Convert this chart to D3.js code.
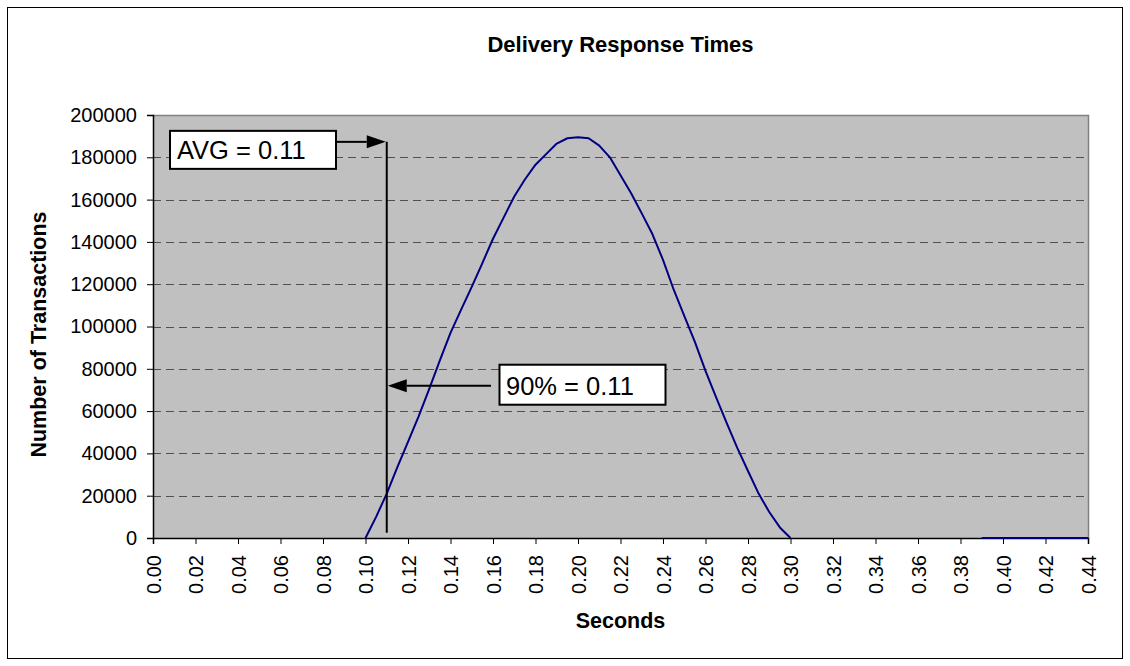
<!DOCTYPE html>
<html>
<head>
<meta charset="utf-8">
<script src="https://cdn.jsdelivr.net/npm/d3@7"></script>
<style>
  html, body { margin: 0; padding: 0; background: #fff; }
  text { font-family: Arial, "Liberation Sans", sans-serif; }
</style>
</head>
<body>
<svg id="chart" width="1130" height="666"></svg>
<script>
// ---- data ----
const seconds = [0.100,0.105,0.110,0.115,0.120,0.125,0.130,0.135,0.140,0.145,0.150,0.155,0.160,0.165,0.170,0.175,0.180,0.185,0.190,0.195,0.200,0.205,0.210,0.215,0.220,0.225,0.230,0.235,0.240,0.245,0.250,0.255,0.260,0.265,0.270,0.275,0.280,0.285,0.290,0.295,0.300,
                 null,
                 0.39,0.40,0.41,0.42,0.43,0.44];
const transactions = [0,10000,21000,33500,45500,57500,70500,84000,97000,108000,118700,130000,141500,151500,161500,169500,176500,181500,186500,189000,189500,189000,185500,180000,171500,163000,153500,143700,131500,117500,105000,92700,79000,66500,54300,42500,31700,21000,12300,5000,0,
                 null,
                 0,0,0,0,0,0];
const xTicks = ["0.00","0.02","0.04","0.06","0.08","0.10","0.12","0.14","0.16","0.18","0.20","0.22","0.24","0.26","0.28","0.30","0.32","0.34","0.36","0.38","0.40","0.42","0.44"];
const yTicks = [0,20000,40000,60000,80000,100000,120000,140000,160000,180000,200000];
const title = "Delivery Response Times";
const xTitle = "Seconds";
const yTitle = "Number of Transactions";
const avgLabel = "AVG = 0.11";
const pctLabel = "90% = 0.11";
const markerX = 0.11;
const avgArrowY = 187300;
const pctArrowY = 72000;

// ---- layout ----
const svg = d3.select("#chart");
const L = 153, R = 1088, T = 115, B = 538;
const x = d3.scaleLinear().domain([0, 0.44]).range([L, R]);
const y = d3.scaleLinear().domain([0, 200000]).range([B, T]);

// outer border
svg.append("rect").attr("x", 7.5).attr("y", 7.5).attr("width", 1115).attr("height", 651)
  .attr("fill", "#fff").attr("stroke", "#000").attr("stroke-width", 1);

// plot background
svg.append("rect").attr("x", L).attr("y", T).attr("width", R - L).attr("height", B - T)
  .attr("fill", "#C0C0C0");

// gridlines
svg.append("g").selectAll("line").data(yTicks.filter(d => d > 0 && d < 200000)).join("line")
  .attr("x1", L).attr("x2", R)
  .attr("y1", d => Math.round(y(d)) + 0.5).attr("y2", d => Math.round(y(d)) + 0.5)
  .attr("stroke", "#505050").attr("stroke-width", 1).attr("stroke-dasharray", "8,5");

// top / right frame
svg.append("path")
  .attr("d", `M${L},${T + 0.5}H${R + 0.5}V${B}`)
  .attr("fill", "none").attr("stroke", "#808080").attr("stroke-width", 1.5);

// y axis
const yAxis = d3.axisLeft(y).tickValues(yTicks).tickFormat(d3.format("d")).tickSize(6).tickPadding(10);
const gy = svg.append("g").attr("transform", `translate(${L},0)`).call(yAxis);
gy.select(".domain").attr("stroke", "#000").attr("stroke-width", 1.5);
gy.selectAll(".tick line").attr("stroke", "#000").attr("x2", -6).attr("x1", 1);
gy.selectAll(".tick text").attr("font-size", 20).attr("fill", "#000")
  .attr("font-family", "Arial, 'Liberation Sans', sans-serif");

// x axis
const xVals = xTicks.map(Number);
const xAxis = d3.axisBottom(x).tickValues(xVals).tickFormat((d, i) => xTicks[i]).tickSize(6);
const gx = svg.append("g").attr("transform", `translate(0,${B})`).call(xAxis);
gx.select(".domain").attr("stroke", "#000").attr("stroke-width", 1.5);
gx.selectAll(".tick line").attr("stroke", "#000");
gx.selectAll(".tick text")
  .attr("font-size", 20).attr("fill", "#000")
  .attr("font-family", "Arial, 'Liberation Sans', sans-serif")
  .attr("text-anchor", "end")
  .attr("dy", "0.35em")
  .attr("transform", "translate(0,17) rotate(-90)")
  .attr("x", 0).attr("y", 0);

// line (drawn over the axes)
const line = d3.line()
  .defined((d, i) => seconds[i] !== null && transactions[i] !== null)
  .x((d, i) => x(seconds[i]))
  .y((d, i) => y(transactions[i]));
svg.append("path").datum(seconds).attr("d", line)
  .attr("fill", "none").attr("stroke", "#000080").attr("stroke-width", 2)
  .attr("stroke-linejoin", "round");

// titles
svg.append("text").attr("x", (L + R) / 2).attr("y", 52).attr("text-anchor", "middle")
  .attr("font-size", 22).attr("font-weight", "bold").text(title);
svg.append("text").attr("x", (L + R) / 2).attr("y", 628).attr("text-anchor", "middle")
  .attr("font-size", 21.5).attr("font-weight", "bold").text(xTitle);
svg.append("text").attr("transform", `translate(46,${(T + B) / 2 + 8}) rotate(-90)`)
  .attr("text-anchor", "middle").attr("font-size", 21.5).attr("font-weight", "bold").text(yTitle);

// annotations
const mx = x(markerX);
svg.append("line").attr("x1", mx).attr("x2", mx).attr("y1", y(avgArrowY)).attr("y2", y(2500))
  .attr("stroke", "#000").attr("stroke-width", 2);

function arrow(x1, x2, yy) {
  const dir = Math.sign(x2 - x1);
  const headLen = 19, headH = 6.5;
  svg.append("line").attr("x1", x1).attr("x2", x2 - dir * headLen).attr("y1", yy).attr("y2", yy)
    .attr("stroke", "#000").attr("stroke-width", 2);
  svg.append("path")
    .attr("d", `M${x2},${yy}L${x2 - dir * headLen},${yy - headH}L${x2 - dir * headLen},${yy + headH}Z`)
    .attr("fill", "#000");
}

// AVG box + arrow
const ay = y(avgArrowY);
svg.append("rect").attr("x", 170).attr("y", ay - 11).attr("width", 166).attr("height", 38)
  .attr("fill", "#fff").attr("stroke", "#000").attr("stroke-width", 2);
svg.append("text").attr("x", 177).attr("y", ay + 17).attr("font-size", 25.5).text(avgLabel);
arrow(336, mx - 1, ay);

// 90% box + arrow
const py = y(pctArrowY);
svg.append("rect").attr("x", 499.5).attr("y", py - 21).attr("width", 166).attr("height", 40)
  .attr("fill", "#fff").attr("stroke", "#000").attr("stroke-width", 2);
svg.append("text").attr("x", 506).attr("y", py + 9).attr("font-size", 25.5).text(pctLabel);
arrow(491, mx + 1, py);
</script>
</body>
</html>
